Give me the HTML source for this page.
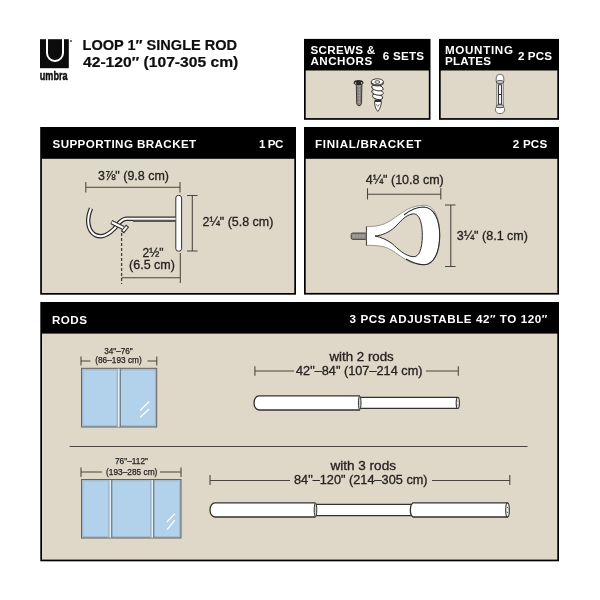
<!DOCTYPE html>
<html><head><meta charset="utf-8">
<style>
html,body{margin:0;padding:0;background:#fff;width:600px;height:600px;overflow:hidden}
svg{display:block;will-change:transform}
.hb{font-family:"Liberation Sans",sans-serif;font-weight:bold;fill:#fff;font-size:11px}
.tt{font-family:"Liberation Sans",sans-serif;font-weight:bold;fill:#0f0e0e;stroke:#0f0e0e;stroke-width:0.2px;font-size:14px}
.dm{font-family:"Liberation Sans",sans-serif;fill:#262321;stroke:#262321;stroke-width:0.3px;font-size:12px}
.sm{font-family:"Liberation Sans",sans-serif;fill:#262321;stroke:#262321;stroke-width:0.25px;font-size:8.5px}
</style></head><body>
<svg width="600" height="600" viewBox="0 0 600 600">
<rect width="600" height="600" fill="#fff"/>
<!-- logo -->
<rect x="40" y="39.2" width="28.8" height="29" fill="#0c0c0c"/>
<path d="M47,39 V53 A8,8 0 0 0 63,53 V39" fill="none" stroke="#fff" stroke-width="2"/>
<circle cx="71" cy="41" r="0.9" fill="#333"/>
<text class="tt" x="39.8" y="79.9" textLength="27.8" lengthAdjust="spacingAndGlyphs" style="font-size:13.4px;stroke:#0f0e0e;stroke-width:0.5px">umbra</text>
<!-- title -->
<text class="tt" x="82.5" y="49.9" textLength="154.6" lengthAdjust="spacingAndGlyphs">LOOP 1″ SINGLE ROD</text>
<text class="tt" x="83" y="67.2" textLength="155.3" lengthAdjust="spacingAndGlyphs">42-120″ (107-305 cm)</text>

<!-- boxes -->
<g id="boxes">
<rect x="304" y="38.9" width="126.5" height="80.9" fill="#000"/>
<rect x="305.7" y="70.5" width="123.1" height="47.6" fill="#dfd7c8"/>
<rect x="439" y="38.9" width="120" height="80.9" fill="#000"/>
<rect x="440.7" y="70.5" width="116.6" height="47.6" fill="#dfd7c8"/>
<rect x="40.2" y="127" width="255.8" height="167.7" fill="#000"/>
<rect x="41.9" y="158.8" width="252.4" height="134.2" fill="#dfd7c8"/>
<rect x="304" y="127" width="255" height="167.6" fill="#000"/>
<rect x="305.7" y="158.8" width="251.6" height="134.1" fill="#dfd7c8"/>
<rect x="40.3" y="302" width="518.7" height="259.3" fill="#000"/>
<rect x="42" y="333.6" width="515.3" height="226" fill="#dfd7c8"/>
</g>

<!-- header labels -->
<text class="hb" transform="translate(310.4,53.75) scale(1.06,1)" textLength="61.18" lengthAdjust="spacing">SCREWS &amp;</text>
<text class="hb" transform="translate(310.4,65.4) scale(1.06,1)" textLength="58.35" lengthAdjust="spacing">ANCHORS</text>
<text class="hb" transform="translate(382.75,59.6) scale(1.06,1)" textLength="38.92" lengthAdjust="spacing">6 SETS</text>
<text class="hb" transform="translate(445.0,53.75) scale(1.06,1)" textLength="64.15" lengthAdjust="spacing">MOUNTING</text>
<text class="hb" transform="translate(445.0,65.4) scale(1.06,1)" textLength="43.40" lengthAdjust="spacing">PLATES</text>
<text class="hb" transform="translate(518.0,59.6) scale(1.06,1)" textLength="32.08" lengthAdjust="spacing">2 PCS</text>
<text class="hb" transform="translate(52.5,148.0) scale(1.06,1)" textLength="135.57" lengthAdjust="spacing">SUPPORTING BRACKET</text>
<text class="hb" transform="translate(259.0,148.2) scale(1.06,1)" textLength="23.11" lengthAdjust="spacing">1 PC</text>
<text class="hb" transform="translate(315.0,148.0) scale(1.06,1)" textLength="100.47" lengthAdjust="spacing">FINIAL/BRACKET</text>
<text class="hb" transform="translate(512.8,148.0) scale(1.06,1)" textLength="32.45" lengthAdjust="spacing">2 PCS</text>
<text class="hb" transform="translate(52.0,323.7) scale(1.06,1)" textLength="33.02" lengthAdjust="spacing">RODS</text>
<text class="hb" transform="translate(349.6,323.2) scale(1.06,1)" textLength="186.51" lengthAdjust="spacing">3 PCS ADJUSTABLE 42″ TO 120″</text>

<!-- dimension lines -->
<g stroke="#4a443d" stroke-width="1.05" fill="none">
<path d="M85.8,187.3 H180 M85.8,182 V192.5 M180,182 V192.5"/>
<path d="M192.3,195.5 V251 M187,195.5 H197.5 M187,251 H197.5"/>
<path d="M121.6,277.8 H180.3 M180.3,253 V283"/>
<path d="M121.6,233 V284" stroke-dasharray="3,2" stroke="#45403a" stroke-width="1.3"/>
<path d="M367.5,194.2 H440.8 M367.5,188.3 V199.5 M440.8,188.3 V199.5"/>
<path d="M450.8,205 V266.5 M445,205 H455.5 M445,266.5 H455.5"/>
<path d="M254.9,371 H294 M426,371 H458.3 M254.9,366.3 V375.7 M458.3,366.3 V375.7"/>
<path d="M210,480.4 H290 M432,480.4 H509.8 M210,475 V485 M509.8,475 V485"/>
<path d="M81,361 H90.5 M147.5,361 H156.8 M81,356.5 V365.5 M156.8,356.5 V365.5"/>
<path d="M81,472 H102 M160,472 H181 M81,467.6 V477 M181,467.6 V477"/>
</g>
<path d="M69.6,446.5 H527.5" stroke="#4a453f" stroke-width="1.2"/>

<!-- dimension text -->
<text class="dm" x="98" y="179.9" textLength="71" lengthAdjust="spacingAndGlyphs">3⅞" (9.8 cm)</text>
<text class="dm" x="202.5" y="226.2" textLength="70.8" lengthAdjust="spacingAndGlyphs">2¼" (5.8 cm)</text>
<text class="dm" x="153" y="257" text-anchor="middle">2½"</text>
<text class="dm" x="129" y="269.2" textLength="46" lengthAdjust="spacingAndGlyphs">(6.5 cm)</text>
<text class="dm" x="365.7" y="184.4" textLength="78.1" lengthAdjust="spacingAndGlyphs">4¼" (10.8 cm)</text>
<text class="dm" x="456.7" y="239.7" textLength="71.3" lengthAdjust="spacingAndGlyphs">3¼" (8.1 cm)</text>
<text class="dm" x="329.5" y="360.5" textLength="64.25" lengthAdjust="spacingAndGlyphs">with 2 rods</text>
<text class="dm" x="296" y="375.4" textLength="126.5" lengthAdjust="spacingAndGlyphs">42"–84" (107–214 cm)</text>
<text class="dm" x="330.4" y="470" textLength="65.6" lengthAdjust="spacingAndGlyphs">with 3 rods</text>
<text class="dm" x="294" y="484.4" textLength="133.6" lengthAdjust="spacingAndGlyphs">84"–120" (214–305 cm)</text>
<text class="sm" x="104.25" y="353.5" textLength="28.5" lengthAdjust="spacingAndGlyphs">34"–76"</text>
<text class="sm" x="95.25" y="363.25" textLength="46.5" lengthAdjust="spacingAndGlyphs">(86–193 cm)</text>
<text class="sm" x="115" y="464.4" textLength="33" lengthAdjust="spacingAndGlyphs">76"–112"</text>
<text class="sm" x="106" y="475" textLength="51.4" lengthAdjust="spacingAndGlyphs">(193–285 cm)</text>

<!-- windows -->
<g>
<rect x="81.5" y="368.3" width="75.2" height="58.7" fill="#a4bdd0" stroke="#66625d" stroke-width="1"/>
<rect x="83.5" y="370.5" width="71.2" height="54.5" fill="#b2d1ea"/>
<rect x="116.6" y="368.8" width="1.6" height="58" fill="#9fb4c6"/>
<rect x="118.1" y="368.8" width="1.6" height="58" fill="#e4f0f8"/>
<rect x="119.7" y="368.8" width="1.1" height="58" fill="#65717b"/>
<path d="M149.2,401.5 L140.2,410.5 M149.2,409 L140.2,417.2" stroke="#fff" stroke-width="1.3"/>
</g>
<g>
<rect x="81.5" y="479.5" width="99.5" height="58.5" fill="#a4bdd0" stroke="#66625d" stroke-width="1"/>
<rect x="83.5" y="481.5" width="95.5" height="54.5" fill="#b2d1ea"/>
<rect x="108.2" y="480" width="1.6" height="57.5" fill="#9fb4c6"/>
<rect x="109.7" y="480" width="1.5" height="57.5" fill="#e4f0f8"/>
<rect x="111.2" y="480" width="1.1" height="57.5" fill="#65717b"/>
<rect x="150.2" y="480" width="1.6" height="57.5" fill="#9fb4c6"/>
<rect x="151.7" y="480" width="1.5" height="57.5" fill="#e4f0f8"/>
<rect x="153.2" y="480" width="1.1" height="57.5" fill="#65717b"/>
<path d="M175,513.6 L167,522 M175,520 L167,529.6" stroke="#fff" stroke-width="1.3"/>
</g>
<!-- rods -->
<g stroke="#34312d" stroke-width="1.3" fill="#fff">
<path d="M361,397.4 H457.5 V408.4 H361 Z" stroke="none"/>
<path d="M361,397.4 H457.5 M361,408.4 H457.5" fill="none"/>
<ellipse cx="457.8" cy="402.9" rx="1.6" ry="5.5" fill="#f4f4f4" stroke-width="1.1"/>
<path d="M360,395.8 H259 A5,7.1 0 0 0 259,410 H360" />
<ellipse cx="359.7" cy="402.9" rx="1.3" ry="6.8" fill="#cfcfcf" stroke-width="1"/>

<path d="M316,504.3 H411 V515.7 H316 Z" stroke="none"/>
<path d="M316,504.3 H411 M316,515.7 H411" fill="none"/>
<path d="M315.6,502.8 H215 A5,7.1 0 0 0 215,517 H315.6" />
<ellipse cx="315.5" cy="509.9" rx="1.3" ry="6.8" fill="#cfcfcf" stroke-width="1"/>
<path d="M508,502.8 H413 C409.5,505 409.5,515 413,517 H508" />
<ellipse cx="507.5" cy="509.9" rx="1.8" ry="7" fill="#f4f4f4" stroke-width="1.1"/>
<circle cx="507.5" cy="507.5" r="0.5" fill="#222" stroke="none"/>
<circle cx="507.5" cy="512.3" r="0.5" fill="#222" stroke="none"/>
<circle cx="457.8" cy="401" r="0.45" fill="#222" stroke="none"/>
<circle cx="457.8" cy="405" r="0.45" fill="#222" stroke="none"/>
</g>

<!-- supporting bracket drawing -->
<g fill="none">
<rect x="175.8" y="195.4" width="5.8" height="55.8" rx="2.6" fill="#fff" stroke="#33302c" stroke-width="1"/>
<path d="M91,208.3 C89,213 87.8,218 88.3,223 C89,231 94,236.5 101,236.2 C107,236 111,232 114.5,228.5 C118,224.5 120.5,219.3 126,218.8 H175.5" stroke="#2e2b28" stroke-width="4.4"/>
<path d="M91,208.3 C89,213 87.8,218 88.3,223 C89,231 94,236.5 101,236.2 C107,236 111,232 114.5,228.5 C118,224.5 120.5,219.3 126,218.8 H175.5" stroke="#fff" stroke-width="2"/>
<path d="M133,220.9 H175.5" stroke="#5a5652" stroke-width="2"/>
<path d="M111.3,222 L123.5,228" stroke="#33302d" stroke-width="4.2" stroke-linecap="butt"/>
<path d="M111.8,222.3 L123.5,228" stroke="#fff" stroke-width="2.2" stroke-linecap="butt"/>
<path d="M122.4,232.2 L127.6,225.8" stroke="#33302d" stroke-width="4" stroke-linecap="butt"/>
<path d="M123.1,231.2 L126.9,226.6" stroke="#fff" stroke-width="2" stroke-linecap="butt"/>
</g>
<!-- finial -->
<g>
<rect x="351.2" y="233" width="15.5" height="6.4" rx="1.6" fill="#8f8b87" stroke="#3a3733" stroke-width="0.9"/>
<path d="M353,235.5 H365 M353,237 H365" stroke="#bdb9b4" stroke-width="0.6" stroke-dasharray="2,1"/>
<path d="M366.3,226.7 C372,226.5 378,226.3 384,224 C392,221 399,214 407,209.5 C413,206.5 419,205.3 425,205.3 C435,205.5 439.7,220 439.7,235.3 C439.7,252 434,264.7 424,264.7 C416,264.7 409,262 403,258 C396,253 390,248.5 384,246.8 C378,245.5 372,245.3 366.3,245.3 Z" fill="#fff" stroke="#85807a" stroke-width="0.8"/>
<path d="M366.5,226.5 V245.5" stroke="#4a4642" stroke-width="0.9"/>
<path d="M404,215 C410,210 417,207 424,207 C434,207.5 439.7,220 439.7,235.3 C439.7,252 434,264.7 424,264.7 C418,264.7 412,262.5 406,259" fill="none" stroke="#2e2b28" stroke-width="1.1"/>
<path d="M375,236 C382,235.5 389,232.5 395,227 C400,222 405,215.5 412,214 C419,212.5 422.3,222 422.3,235.3 C422.3,249 419,257.5 413,256.7 C405,256 398,249 392,243.5 C387,240 381,237 375,236 Z" fill="#dfd7c8" stroke="#2e2b28" stroke-width="1"/>
</g>
<!-- screws & anchors -->
<g stroke="#2f2c29">
<path d="M356.3,84.5 H361.9 L361.5,103.7 L360.2,105.6 H358 L356.7,103.7 Z" fill="#8a8580" stroke-width="0.9"/>
<path d="M359.1,86 V103" stroke="#b5b0ab" stroke-width="1"/>
<path d="M356.5,88 H361.5 M356.5,91 H361.5 M356.5,94 H361.5 M356.5,97 H361.5 M356.5,100 H361.5" stroke="#5a5652" stroke-width="0.45"/>
<path d="M353.6,82.5 C353.6,79.2 363.5,79.2 363.5,82.5 C363.5,84.6 361,84.9 358.5,84.9 C356,84.9 353.6,84.6 353.6,82.5 Z" fill="#2a2724" stroke="none"/>
<circle cx="355.6" cy="83" r="0.8" fill="#ddd" stroke="none"/>
<circle cx="361.6" cy="83" r="0.8" fill="#ddd" stroke="none"/>
<path d="M374.7,101.5 H381.3 C381.5,105 380,109 377.8,111.4 C375.5,109 374.3,105 374.7,101.5 Z" fill="#fff" stroke-width="0.9"/>
<path d="M376,104 L377.8,106.5 L379.6,104" fill="none" stroke-width="0.6"/>
<rect x="374.6" y="99.6" width="6.8" height="2.2" fill="#2f2c29" stroke="none"/>
<ellipse cx="377.6" cy="96.8" rx="5.2" ry="2.6" fill="#fff" stroke-width="0.9" transform="rotate(12 377.6 96.8)"/>
<ellipse cx="377.5" cy="92.3" rx="5.9" ry="2.8" fill="#fff" stroke-width="0.9" transform="rotate(12 377.5 92.3)"/>
<ellipse cx="377.4" cy="87.9" rx="5.9" ry="2.8" fill="#fff" stroke-width="0.9" transform="rotate(12 377.4 87.9)"/>
<path d="M372.2,86.5 C373,89 373,93 372.4,96" fill="none" stroke="#6d6965" stroke-width="0.8"/>
<ellipse cx="377.3" cy="82.9" rx="6.1" ry="3.1" fill="#8d8985" stroke-width="0.9"/>
<ellipse cx="377.3" cy="81.8" rx="6.1" ry="3" fill="#fff" stroke-width="0.9"/>
<ellipse cx="377.3" cy="82" rx="2.5" ry="1.4" fill="#e5e5e5" stroke-width="0.7"/>
</g>
<!-- mounting plate -->
<g>
<rect x="496.6" y="82" width="6.8" height="24" fill="#d6d3cf" stroke="#7a7671" stroke-width="0.7"/>
<rect x="498.6" y="84.8" width="2.8" height="19.4" fill="#fff" stroke="#222" stroke-width="0.9"/>
<path d="M498.6,94.5 H501.4" stroke="#222" stroke-width="1"/>
<path d="M496.2,81.5 V78 A3.8,3.8 0 0 1 503.8,78 V81.5 Z" fill="#fff" stroke="#55514d" stroke-width="0.8"/>
<ellipse cx="500" cy="82" rx="3.8" ry="1.5" fill="#d4d1cd" stroke="#3a3733" stroke-width="0.8"/>
<path d="M496,107.5 C494.8,109 495.2,113.6 500,113.6 C504.8,113.6 505.2,109 504,107.5 Z" fill="#fff" stroke="#55514d" stroke-width="0.8"/>
<ellipse cx="500" cy="106.2" rx="3.8" ry="1.5" fill="#d4d1cd" stroke="#3a3733" stroke-width="0.8"/>
</g>
</svg>
</body></html>
